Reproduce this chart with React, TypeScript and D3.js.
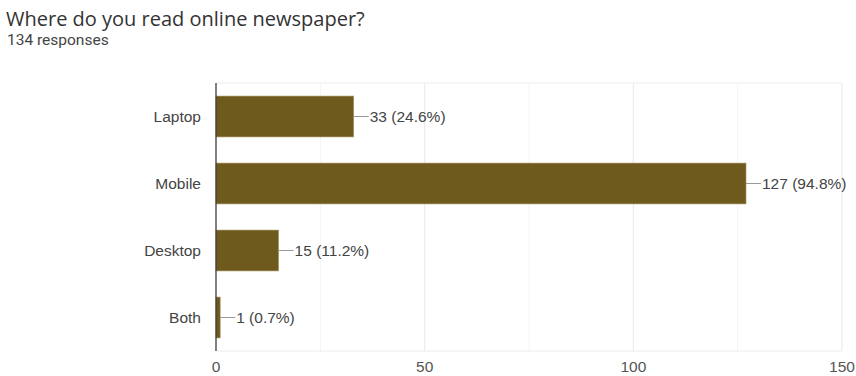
import React from "react";
import * as d3 from "d3";

const categories = ["Laptop", "Mobile", "Desktop", "Both"];
const values = [33, 127, 15, 1];
const percents = ["24.6%", "94.8%", "11.2%", "0.7%"];
const xTicks = [0, 50, 100, 150];
const minorTicks = [25, 75, 125];
const title = "Where do you read online newspaper?";
const subtitle = "134 responses";

export default function App() {
  const W = 856, H = 376;
  const left = 216, right = 842, top = 83, bottom = 351;
  const x = d3.scaleLinear().domain([0, 150]).range([left, right]);
  const y = d3.scaleBand().domain(categories).range([top, bottom]).paddingInner(0.39).paddingOuter(0.195);
  const barColor = "#6f5a1d";
  const font = "'Liberation Sans', Arial, sans-serif";
  const fs = 15.5;
  return (
    <svg width={W} height={H} style={{ position: "absolute", left: 0, top: 0, background: "#fff" }}>
      <text x={6} y={26} fontFamily="'Open Sans', Roboto, sans-serif" fontSize={20} fill="#333">{title}</text>
      <text x={7} y={45} fontFamily="Roboto, sans-serif" fontSize={15.5} fill="#444">{subtitle}</text>
      {minorTicks.map((t) => (
        <line key={"m" + t} x1={x(t)} x2={x(t)} y1={top} y2={bottom} stroke="#f4f4f4" strokeWidth={1} />
      ))}
      {xTicks.map((t) => (
        <line key={"g" + t} x1={x(t)} x2={x(t)} y1={top} y2={bottom} stroke="#e9e9e9" strokeWidth={1} />
      ))}
      <line x1={left} x2={right} y1={top} y2={top} stroke="#ececec" />
      <line x1={left} x2={right} y1={bottom} y2={bottom} stroke="#ececec" />
      {categories.map((c, i) => {
        const yy = y(c)!;
        const bw = y.bandwidth();
        const xe = x(values[i]);
        return (
          <g key={c}>
            <rect x={x(0)} y={yy} width={xe - x(0)} height={bw} fill={barColor} stroke="#a8976a" strokeWidth={0.6} />
            <line x1={xe} x2={xe + 15} y1={yy + bw / 2} y2={yy + bw / 2} stroke="#999" strokeWidth={1} />
            <text x={xe + 16} y={yy + bw / 2} dy="0.36em" fontFamily={font} fontSize={fs} fill="#444">
              {`${values[i]} (${percents[i]})`}
            </text>
            <text x={201} y={yy + bw / 2} dy="0.36em" textAnchor="end" fontFamily={font} fontSize={fs} fill="#444">
              {c}
            </text>
          </g>
        );
      })}
      <line x1={left} x2={left} y1={top} y2={bottom} stroke="#333" strokeWidth={1.2} />
      {xTicks.map((t) => (
        <text key={"t" + t} x={x(t)} y={372} textAnchor="middle" fontFamily={font} fontSize={fs} fill="#555">{t}</text>
      ))}
    </svg>
  );
}
